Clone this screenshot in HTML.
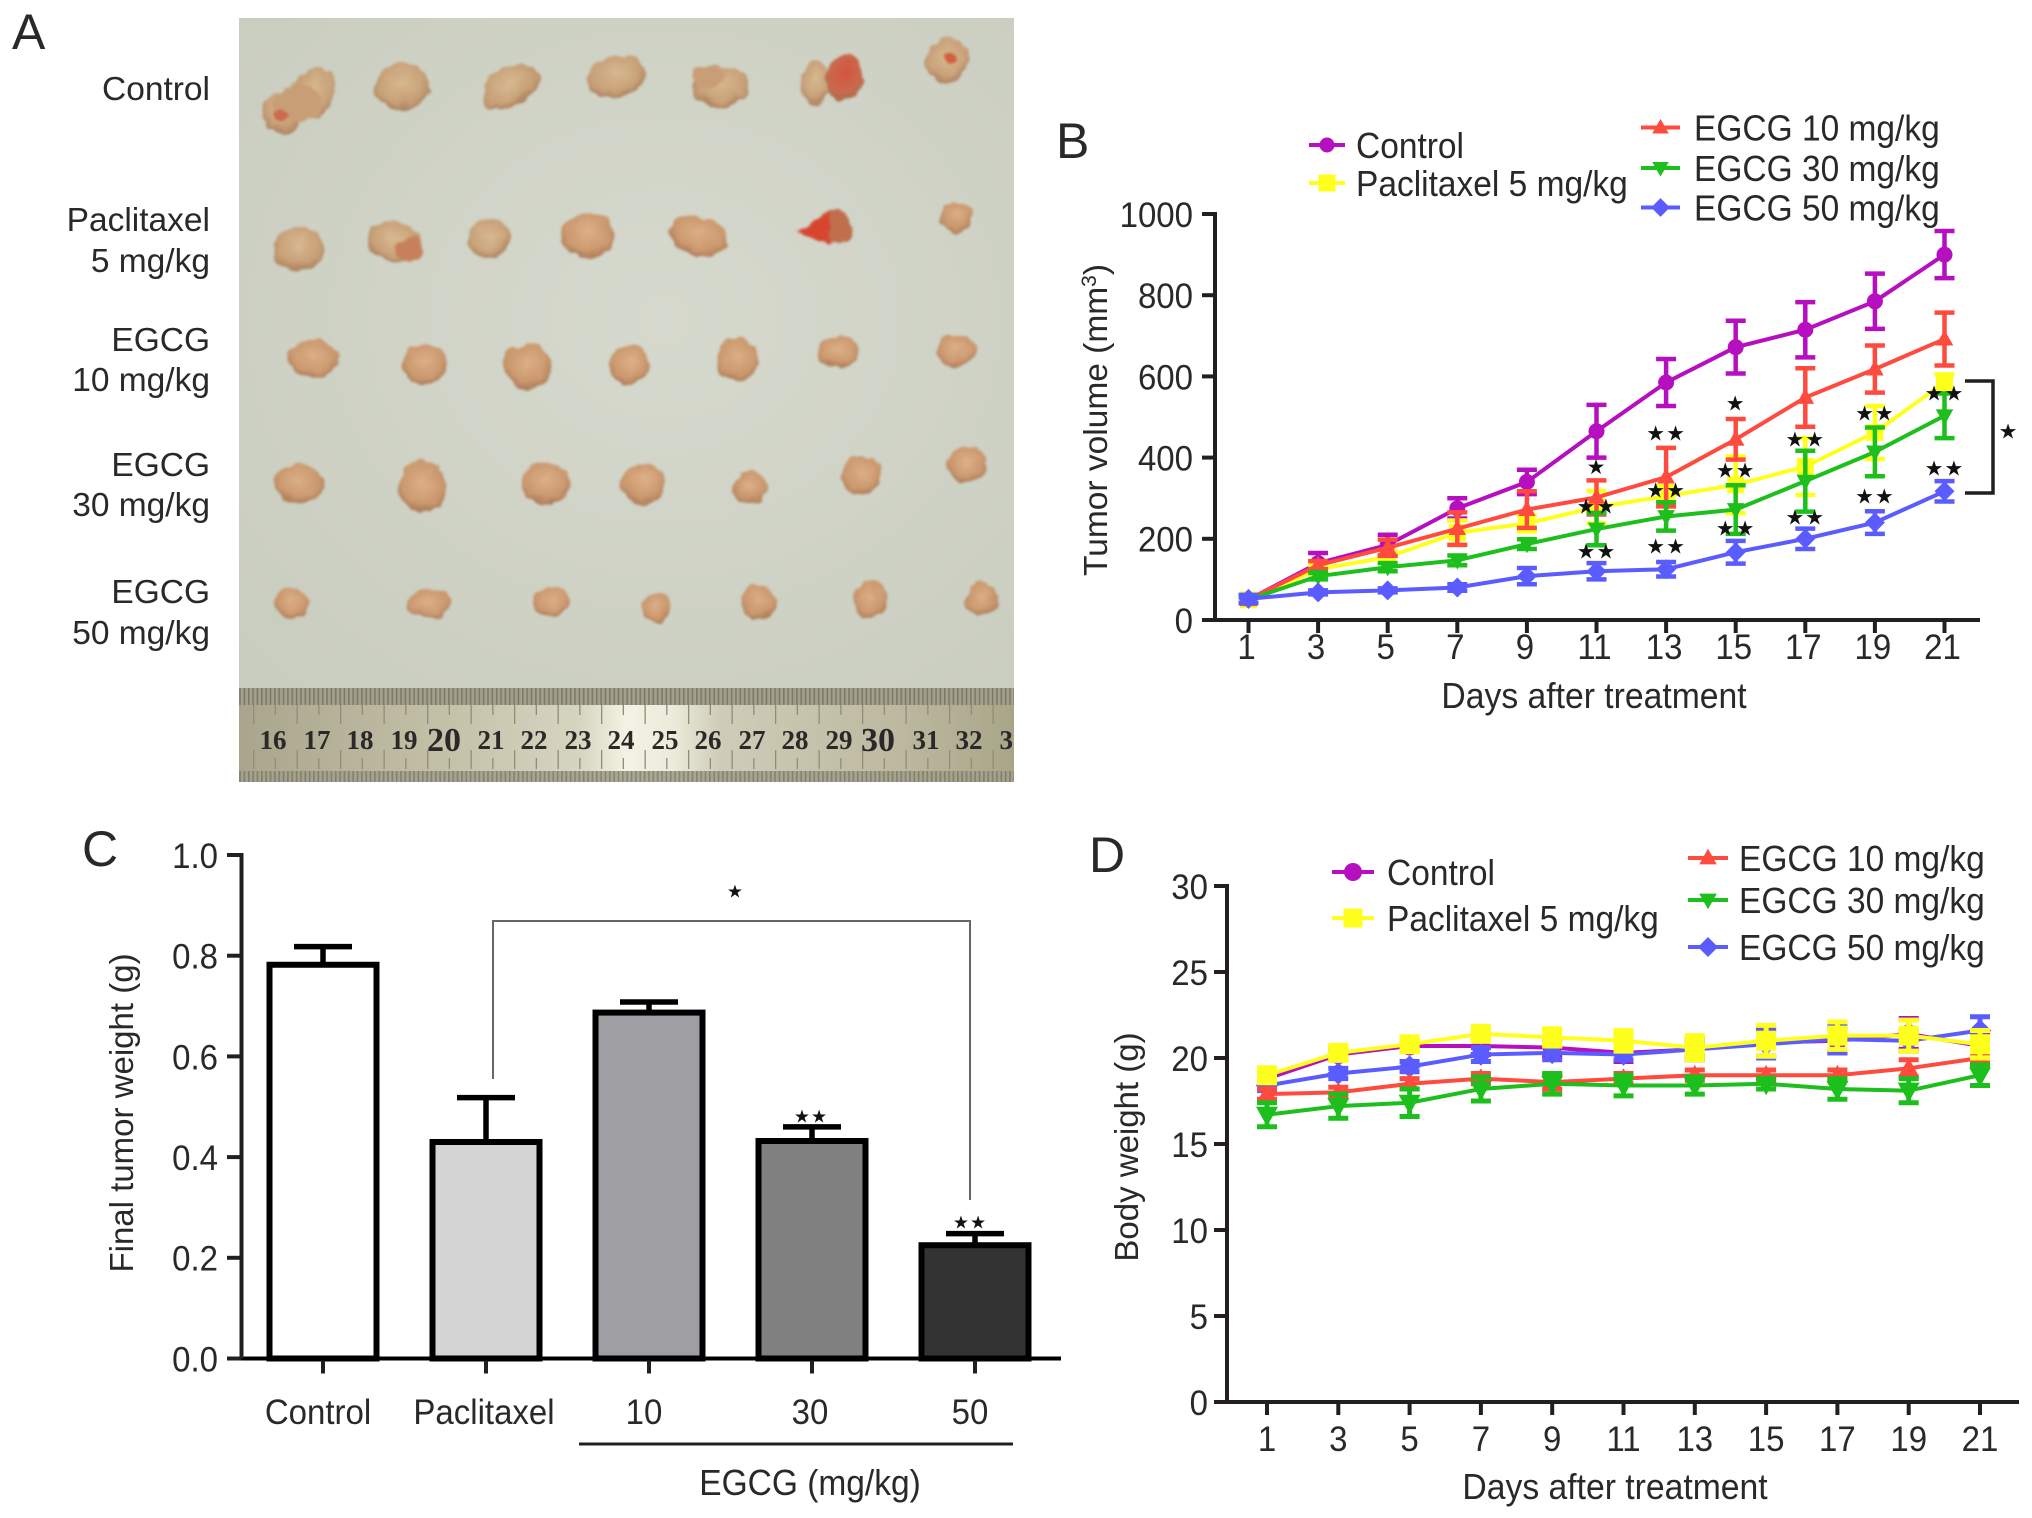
<!DOCTYPE html>
<html lang="en">
<head>
<meta charset="utf-8">
<title>EGCG tumor figure</title>
<style>
html,body{margin:0;padding:0;background:#fff;width:2032px;height:1518px;overflow:hidden}
svg{display:block}
text{font-family:"Liberation Sans",sans-serif;fill:#2a2829}
.stars{font-family:"DejaVu Sans",sans-serif;fill:#111}
</style>
</head>
<body>
<svg id="fig" xmlns="http://www.w3.org/2000/svg" width="2032" height="1518" viewBox="0 0 2032 1518">
<defs>
<radialGradient id="bg" cx="55%" cy="45%" r="75%"><stop offset="0" stop-color="#d6d9cd"/><stop offset="1" stop-color="#c9cdbf"/></radialGradient>
<radialGradient id="tp" cx="50%" cy="42%" r="60%"><stop offset="0" stop-color="#d8ba90"/><stop offset=".7" stop-color="#c8a078"/><stop offset="1" stop-color="#a67c5a"/></radialGradient>
<radialGradient id="to" cx="50%" cy="42%" r="60%"><stop offset="0" stop-color="#dcb088"/><stop offset=".7" stop-color="#cb986e"/><stop offset="1" stop-color="#a67656"/></radialGradient>
<radialGradient id="tr" cx="50%" cy="40%" r="60%"><stop offset="0" stop-color="#d4553f"/><stop offset=".7" stop-color="#c86a4c"/><stop offset="1" stop-color="#a86c4c"/></radialGradient>
<filter id="soft" filterUnits="userSpaceOnUse" x="240" y="18" width="778" height="680" color-interpolation-filters="sRGB">
<feTurbulence type="fractalNoise" baseFrequency=".07" numOctaves="2" seed="4" result="n"/>
<feDisplacementMap in="SourceGraphic" in2="n" scale="10" xChannelSelector="R" yChannelSelector="G"/>
<feGaussianBlur stdDeviation="1.3"/>
</filter>
<linearGradient id="rulerBody" x1="0" x2="1" y1="0" y2="0">
<stop offset="0" stop-color="#a9a58c"/><stop offset=".25" stop-color="#c2bfa6"/><stop offset=".44" stop-color="#d6d5c0"/><stop offset=".5" stop-color="#f2f3e4"/><stop offset=".56" stop-color="#ebebdb"/><stop offset=".62" stop-color="#cfcdb8"/><stop offset=".85" stop-color="#bdb9a0"/><stop offset="1" stop-color="#a8a588"/>
</linearGradient>
<pattern id="mm" width="4.35" height="10" patternUnits="userSpaceOnUse"><rect width="4.35" height="10" fill="#a3a08c"/><rect width="1.6" height="10" fill="#7d7a69"/></pattern>
<pattern id="cmTop" x="239" width="43.5" height="22" patternUnits="userSpaceOnUse"><rect x="14" width="1.3" height="20" fill="#8f8c78"/><rect x="35.7" width="1.3" height="11" fill="#8f8c78"/></pattern>
<pattern id="cmBot" x="239" y="749" width="43.5" height="22" patternUnits="userSpaceOnUse"><rect x="14" width="1.3" height="20" fill="#8f8c78"/><rect x="35.7" y="9" width="1.3" height="11" fill="#8f8c78"/></pattern>
<clipPath id="photoClip"><rect x="239" y="18" width="775" height="764"/></clipPath>
</defs>
<rect width="2032" height="1518" fill="#fff"/>

<g>
<text x="12" y="49" font-size="50">A</text>
<g clip-path="url(#photoClip)">
<rect x="239" y="18" width="775" height="672" fill="url(#bg)"/>
<g filter="url(#soft)">
<g transform="matrix(.9957 0 0 .995 -.7 0)">
<g fill="url(#tp)">
<g><ellipse cx="285" cy="113" rx="21" ry="21"/><ellipse cx="315" cy="93" rx="20" ry="27" transform="rotate(20 315 93)"/><ellipse cx="300" cy="104" rx="24" ry="20" fill="#c89e76"/><ellipse cx="283" cy="115" rx="6" ry="7" fill="#cc6a4c"/></g>
<ellipse cx="404" cy="87" rx="27" ry="23"/>
<ellipse cx="513" cy="87" rx="30" ry="20" transform="rotate(-30 513 87)"/>
<ellipse cx="620" cy="77" rx="29" ry="21" transform="rotate(-15 620 77)"/>
<g><ellipse cx="724" cy="87" rx="28" ry="21"/><ellipse cx="712" cy="77" rx="18" ry="12" fill="#c89e76"/></g>
<g><ellipse cx="820" cy="83" rx="15" ry="22"/><ellipse cx="849" cy="78" rx="18" ry="23" fill="url(#tr)" transform="rotate(15 849 78)"/></g>
<g><ellipse cx="952" cy="61" rx="22" ry="23"/><ellipse cx="955" cy="58" rx="6" ry="6" fill="#d0603f"/></g>
</g>
<g fill="url(#tp)">
<ellipse cx="301" cy="250" rx="25" ry="22"/>
<g><ellipse cx="396" cy="243" rx="28" ry="20" transform="rotate(15 396 243)"/><ellipse cx="412" cy="251" rx="13" ry="12" fill="#c8805c"/></g>
<ellipse cx="492" cy="240" rx="23" ry="19" transform="rotate(-10 492 240)"/>
<ellipse cx="590" cy="237" rx="27" ry="23" fill="url(#to)"/>
<ellipse cx="702" cy="237" rx="29" ry="20" fill="url(#to)" transform="rotate(15 702 237)"/>
<g><ellipse cx="838" cy="228" rx="17" ry="18" fill="#bf6f4c"/><polygon points="800,232 835,212 835,245" fill="#d8452f"/></g>
<ellipse cx="962" cy="218" rx="16" ry="16" fill="url(#to)"/>
</g>
<g fill="url(#to)">
<ellipse cx="315" cy="361" rx="26" ry="19"/>
<ellipse cx="427" cy="366" rx="23" ry="20"/>
<ellipse cx="531" cy="368" rx="23" ry="23"/>
<ellipse cx="633" cy="367" rx="20" ry="20"/>
<ellipse cx="741" cy="361" rx="21" ry="22"/>
<ellipse cx="843" cy="354" rx="20" ry="17"/>
<ellipse cx="961" cy="352" rx="19" ry="17"/>
</g>
<g fill="url(#to)">
<ellipse cx="300" cy="486" rx="25" ry="20"/>
<ellipse cx="425" cy="490" rx="24" ry="26"/>
<ellipse cx="549" cy="486" rx="25" ry="20"/>
<ellipse cx="647" cy="486" rx="22" ry="21"/>
<ellipse cx="753" cy="490" rx="17" ry="17"/>
<ellipse cx="867" cy="478" rx="20" ry="20"/>
<ellipse cx="972" cy="467" rx="20" ry="19"/>
</g>
<g fill="url(#to)">
<ellipse cx="294" cy="606" rx="17" ry="16"/>
<ellipse cx="431" cy="607" rx="21" ry="15"/>
<ellipse cx="555" cy="605" rx="18" ry="15"/>
<ellipse cx="660" cy="611" rx="14" ry="16"/>
<ellipse cx="763" cy="605" rx="18" ry="17"/>
<ellipse cx="875" cy="603" rx="17" ry="19"/>
<ellipse cx="987" cy="601" rx="16" ry="16"/>
</g>
</g>
</g>
<g>
<rect x="239" y="688" width="775" height="94" fill="url(#rulerBody)"/>
<rect x="239" y="688" width="775" height="17" fill="url(#mm)"/>
<rect x="239" y="771" width="775" height="11" fill="url(#mm)" opacity=".9"/>
<rect x="239" y="705" width="775" height="21" fill="url(#cmTop)"/>
<rect x="239" y="750" width="775" height="21" fill="url(#cmBot)"/>
<g text-anchor="middle" transform="translate(-2,0)" style="font-weight:bold">
<text x="275" y="749" font-size="27" style="font-family:'Liberation Serif',serif">16</text>
<text x="319" y="749" font-size="27" style="font-family:'Liberation Serif',serif">17</text>
<text x="362" y="749" font-size="27" style="font-family:'Liberation Serif',serif">18</text>
<text x="406" y="749" font-size="27" style="font-family:'Liberation Serif',serif">19</text>
<text x="446" y="751" font-size="34" style="font-family:'Liberation Serif',serif">20</text>
<text x="493" y="749" font-size="27" style="font-family:'Liberation Serif',serif">21</text>
<text x="536" y="749" font-size="27" style="font-family:'Liberation Serif',serif">22</text>
<text x="580" y="749" font-size="27" style="font-family:'Liberation Serif',serif">23</text>
<text x="623" y="749" font-size="27" style="font-family:'Liberation Serif',serif">24</text>
<text x="667" y="749" font-size="27" style="font-family:'Liberation Serif',serif">25</text>
<text x="710" y="749" font-size="27" style="font-family:'Liberation Serif',serif">26</text>
<text x="754" y="749" font-size="27" style="font-family:'Liberation Serif',serif">27</text>
<text x="797" y="749" font-size="27" style="font-family:'Liberation Serif',serif">28</text>
<text x="841" y="749" font-size="27" style="font-family:'Liberation Serif',serif">29</text>
<text x="880" y="751" font-size="34" style="font-family:'Liberation Serif',serif">30</text>
<text x="928" y="749" font-size="27" style="font-family:'Liberation Serif',serif">31</text>
<text x="971" y="749" font-size="27" style="font-family:'Liberation Serif',serif">32</text>
<text x="1015" y="749" font-size="27" style="font-family:'Liberation Serif',serif">33</text>
</g>
</g>
</g>
<g font-size="33.5" text-anchor="end">
<text x="210" y="100">Control</text>
<text x="210" y="231">Paclitaxel</text>
<text x="210" y="272">5 mg/kg</text>
<text x="210" y="351">EGCG</text>
<text x="210" y="391">10 mg/kg</text>
<text x="210" y="476">EGCG</text>
<text x="210" y="516">30 mg/kg</text>
<text x="210" y="603">EGCG</text>
<text x="210" y="644">50 mg/kg</text>
</g>
</g>
<text x="1056" y="158" font-size="50">B</text>
<text x="82" y="866" font-size="50">C</text>
<text x="1089" y="872" font-size="50">D</text>
</svg>

<script>
// Panel B: tumor volume (mm3)
const dayTicks = [1, 3, 5, 7, 9, 11, 13, 15, 17, 19, 21];
const volumeTicks = [0, 200, 400, 600, 800, 1000];
const volControl = [50, 140, 185, 275, 340, 465, 585, 672, 715, 785, 900];
const volControlErr = [8, 25, 25, 25, 30, 65, 58, 65, 68, 68, 58];
const volPaclitaxel = [50, 125, 155, 215, 238, 278, 305, 333, 378, 462, 585];
const volPaclitaxelErr = [8, 10, 15, 30, 20, 40, 25, 70, 70, 65, 20];
const volEgcg10 = [50, 135, 178, 225, 272, 302, 352, 445, 548, 618, 692];
const volEgcg10Err = [8, 10, 20, 40, 45, 42, 72, 50, 72, 58, 65];
const volEgcg30 = [50, 108, 130, 147, 187, 224, 255, 272, 342, 414, 503];
const volEgcg30Err = [8, 8, 10, 12, 12, 40, 35, 60, 75, 60, 55];
const volEgcg50 = [52, 68, 73, 80, 108, 120, 125, 167, 200, 240, 317];
const volEgcg50Err = [10, 5, 5, 8, 20, 20, 18, 28, 25, 28, 25];
const sigDays = [11, 11, 11, 13, 13, 13, 15, 15, 15, 17, 17, 19, 19, 21, 21];
const sigVolumes = [378, 281, 170, 461, 320, 182, 535, 369, 227, 446, 254, 510, 305, 559, 374];
const sigMarks = ['★', '★★', '★★', '★★', '★★', '★★', '★', '★★', '★★', '★★', '★★', '★★', '★★', '★★', '★★'];

// Panel C: final tumor weight (g)
const weightTicks = ['0.0', '0.2', '0.4', '0.6', '0.8', '1.0'];
const barCategories = ['Control', 'Paclitaxel', '10', '30', '50'];
const barValues = [0.782, 0.43, 0.687, 0.432, 0.225];
const barErrors = [0.036, 0.088, 0.021, 0.028, 0.023];

// Panel D: body weight (g)
const bodyTicks = [0, 5, 10, 15, 20, 25, 30];
const bodyControl = [18.8, 20.2, 20.7, 20.7, 20.6, 20.3, 20.5, 20.9, 21.0, 21.4, 20.7];
const bodyControlErr = [0.3, 0.3, 0.3, 0.5, 0.5, 0.5, 0.6, 0.8, 0.7, 0.9, 0.7];
const bodyPaclitaxel = [19.0, 20.3, 20.8, 21.4, 21.2, 21.0, 20.6, 21.0, 21.3, 21.3, 20.8];
const bodyPaclitaxelErr = [0.4, 0.3, 0.3, 0.3, 0.5, 0.6, 0.7, 0.9, 0.8, 0.9, 0.8];
const bodyEgcg10 = [17.9, 18.0, 18.5, 18.8, 18.6, 18.8, 19.0, 19.0, 19.0, 19.4, 20.0];
const bodyEgcg10Err = [0.3, 0.3, 0.3, 0.3, 0.4, 0.3, 0.3, 0.3, 0.3, 0.5, 0.3];
const bodyEgcg30 = [16.7, 17.2, 17.4, 18.2, 18.5, 18.4, 18.4, 18.5, 18.2, 18.1, 19.0];
const bodyEgcg30Err = [0.7, 0.7, 0.8, 0.7, 0.6, 0.6, 0.5, 0.3, 0.6, 0.7, 0.6];
const bodyEgcg50 = [18.4, 19.1, 19.5, 20.2, 20.3, 20.2, 20.5, 20.8, 21.1, 21.0, 21.6];
const bodyEgcg50Err = [0.3, 0.3, 0.3, 0.4, 0.4, 0.3, 0.4, 0.8, 0.8, 0.6, 0.8];

const NS = 'http://www.w3.org/2000/svg';
const INK = '#231f20';
const fig = document.getElementById('fig');

function el(tag, attrs, parent, name, interactive) {
  const e = document.createElementNS(NS, tag);
  for (const k in attrs) e.setAttribute(k, attrs[k]);
  
  
  parent.appendChild(e);
  return e;
}
function group(parent, name) { return el('g', {}, parent, name, false); }
function label(parent, x, y, str, name, anchor, size) {
  const fs = size || 33;
  const t = el('text', { transform: 'translate(' + x + ',' + (y + fs * 0.39) + ') scale(1,1.08)', 'font-size': fs, 'text-anchor': anchor || 'middle' }, parent, name, false);
  t.textContent = str;
  return t;
}
function linear(d0, d1, r0, r1) { return v => r0 + (v - d0) * (r1 - r0) / (d1 - d0); }
function seg(parent, x1, y1, x2, y2, color, w, name) {
  return el('line', { x1: x1, y1: y1, x2: x2, y2: y2, stroke: color, 'stroke-width': w }, parent, name, false);
}
function marker(parent, shape, x, y, r, color, name) {
  let pts;
  if (shape === 'circle') return el('circle', { cx: x, cy: y, r: r, fill: color }, parent, name, false);
  if (shape === 'square') pts = [[-r, -r], [r, -r], [r, r], [-r, r]];
  if (shape === 'up') pts = [[0, -r * 1.15], [r * 1.1, r * 0.8], [-r * 1.1, r * 0.8]];
  if (shape === 'down') pts = [[0, r * 1.15], [r * 1.1, -r * 0.8], [-r * 1.1, -r * 0.8]];
  if (shape === 'diamond') pts = [[0, -r * 1.25], [r * 1.25, 0], [0, r * 1.25], [-r * 1.25, 0]];
  return el('polygon', { points: pts.map(p => (x + p[0]) + ',' + (y + p[1])).join(' '), fill: color }, parent, name, false);
}
function stars(parent, x, y, str, size, gap, name) {
  const t = el('text', { x: x, y: y + size * 0.36, 'font-size': size, 'text-anchor': 'middle', 'letter-spacing': gap, class: 'stars' }, parent, name, false);
  t.textContent = str;
  return t;
}

const STYLE = {
  control: { color: '#b60fc0', shape: 'circle', label: 'Control' },
  pac: { color: '#ffff1e', shape: 'square', label: 'Paclitaxel 5 mg/kg' },
  e10: { color: '#ff4b3e', shape: 'up', label: 'EGCG 10 mg/kg' },
  e30: { color: '#1cbf1c', shape: 'down', label: 'EGCG 30 mg/kg' },
  e50: { color: '#5b5cff', shape: 'diamond', label: 'EGCG 50 mg/kg' }
};

function lineAxes(root, prefix, x, y, axisX, xAxisEnd, yTicks, xLabelOffset, xLabelDx, yLabelRight) {
  const ax = group(root, prefix + '-axes');
  seg(ax, axisX - 13, y(0), xAxisEnd, y(0), INK, 4, prefix + '-x-axis');
  seg(ax, axisX, y(yTicks[0]), axisX, y(yTicks[yTicks.length - 1]) - 2, INK, 4, prefix + '-y-axis');
  yTicks.forEach(v => {
    seg(ax, axisX - 13, y(v), axisX, y(v), INK, 4, prefix + '-y-tick');
    label(ax, yLabelRight, y(v), String(v), prefix + '-y-tick-label', 'end');
  });
  dayTicks.forEach(d => {
    seg(ax, x(d), y(0), x(d), y(0) + 13, INK, 4, prefix + '-x-tick');
    label(ax, x(d) + xLabelDx, y(0) + xLabelOffset, String(d), prefix + '-x-tick-label');
  });
}
function drawSeries(root, prefix, key, vals, errs, x, y, r, cap, ew) {
  const s = STYLE[key];
  const g = group(root, prefix + '-series-' + key);
  dayTicks.forEach((d, i) => {
    seg(g, x(d), y(vals[i] - errs[i]), x(d), y(vals[i] + errs[i]), s.color, ew, prefix + '-error-bar');
    seg(g, x(d) - cap, y(vals[i] + errs[i]), x(d) + cap, y(vals[i] + errs[i]), s.color, ew, prefix + '-error-cap-upper');
    seg(g, x(d) - cap, y(vals[i] - errs[i]), x(d) + cap, y(vals[i] - errs[i]), s.color, ew, prefix + '-error-cap-lower');
  });
  el('polyline', {
    points: dayTicks.map((d, i) => x(d) + ',' + y(vals[i])).join(' '),
    fill: 'none', stroke: s.color, 'stroke-width': 4
  }, g, prefix + '-line', false);
  dayTicks.forEach((d, i) => marker(g, s.shape, x(d), y(vals[i]), r, s.color, prefix + '-point'));
}
function legendEntry(root, prefix, key, x0, x1, y, tx, r) {
  const s = STYLE[key];
  const g = group(root, prefix + '-legend-' + key);
  seg(g, x0, y, x1, y, s.color, 4, prefix + '-legend-line');
  marker(g, s.shape, (x0 + x1) / 2, y, r, s.color, prefix + '-legend-marker');
  label(g, tx, y, s.label, prefix + '-legend-label', 'start', 33.5);
}

// ---------- Panel B ----------
(function () {
  const root = group(fig, 'panel-b-tumor-volume');
  const x = linear(1, 21, 1248.5, 1944.5);
  const y = linear(0, 1000, 620, 214);
  lineAxes(root, 'volume', x, y, 1215, 1980, volumeTicks, 26, -2, 1193);
  drawSeries(root, 'volume', 'control', volControl, volControlErr, x, y, 8, 10, 4.5);
  drawSeries(root, 'volume', 'pac', volPaclitaxel, volPaclitaxelErr, x, y, 8.5, 10, 4.5);
  drawSeries(root, 'volume', 'e10', volEgcg10, volEgcg10Err, x, y, 8, 10, 4.5);
  drawSeries(root, 'volume', 'e30', volEgcg30, volEgcg30Err, x, y, 8, 10, 4.5);
  drawSeries(root, 'volume', 'e50', volEgcg50, volEgcg50Err, x, y, 8, 10, 4.5);
  const sig = group(root, 'volume-significance-stars');
  sigDays.forEach((d, i) => stars(sig, x(d), y(sigVolumes[i]), sigMarks[i], 21, 1, 'significance-mark'));
  const br = group(root, 'volume-comparison-bracket');
  el('polyline', { points: '1965,381 1993,381 1993,493 1965,493', fill: 'none', stroke: INK, 'stroke-width': 3.5 }, br, 'comparison-bracket-line', false);
  stars(br, 2008, 431, '★', 21, 0, 'comparison-bracket-star');
  label(root, 1594, 695, 'Days after treatment', 'volume-x-axis-title', 'middle', 33.7);
  const yt = el('text', { transform: 'translate(1107,420) rotate(-90)', 'font-size': 33.5, 'text-anchor': 'middle' }, root, 'volume-y-axis-title', false);
  yt.textContent = 'Tumor volume (mm';
  const sup = document.createElementNS(NS, 'tspan');
  
  
  sup.setAttribute('dy', '-11');
  sup.setAttribute('font-size', '21');
  sup.textContent = '3';
  yt.appendChild(sup);
  const close = document.createElementNS(NS, 'tspan');
  
  
  close.setAttribute('dy', '11');
  close.textContent = ')';
  yt.appendChild(close);
  const lg = group(root, 'volume-legend');
  legendEntry(lg, 'volume', 'control', 1309, 1345, 145, 1356, 7.5);
  legendEntry(lg, 'volume', 'pac', 1309, 1345, 183, 1356, 8.5);
  legendEntry(lg, 'volume', 'e10', 1641, 1680, 127.5, 1694, 7.5);
  legendEntry(lg, 'volume', 'e30', 1641, 1680, 168, 1694, 7.5);
  legendEntry(lg, 'volume', 'e50', 1641, 1680, 207.5, 1694, 7.5);
})();

// ---------- Panel C ----------
(function () {
  const root = group(fig, 'panel-c-tumor-weight');
  const y = linear(0, 1, 1358.5, 855);
  const x = i => 323 + i * 163;
  const fills = ['#ffffff', '#d4d4d4', '#9e9ea3', '#808080', '#333333'];
  const barHalf = 53.5;
  const capHalf = 29;
  barCategories.forEach((c, i) => {
    const g = group(root, 'bar-group-' + c.toLowerCase());
    seg(g, x(i), y(barValues[i]), x(i), y(barValues[i] + barErrors[i]), '#000', 5.5, 'bar-error-stem');
    seg(g, x(i) - capHalf, y(barValues[i] + barErrors[i]), x(i) + capHalf, y(barValues[i] + barErrors[i]), '#000', 5.5, 'bar-error-cap');
    el('rect', { x: x(i) - barHalf, y: y(barValues[i]), width: barHalf * 2, height: y(0) - y(barValues[i]), fill: fills[i], stroke: '#000', 'stroke-width': 6 }, g, 'bar', false);
    seg(root, x(i), y(0), x(i), y(0) + 15, INK, 4, 'bar-x-tick');
  });
  const labelX = [318, 484, 644, 810, 970];
  barCategories.forEach((c, i) => label(root, labelX[i], 1411, c, 'bar-x-label'));
  seg(root, 229, y(0), 1061, y(0), '#000', 4, 'weight-x-axis');
  seg(root, 241.5, y(0), 241.5, y(1) - 2, INK, 4, 'weight-y-axis');
  weightTicks.forEach(t => {
    seg(root, 227, y(+t), 241.5, y(+t), INK, 4, 'weight-y-tick');
    label(root, 218, y(+t), t, 'weight-y-tick-label', 'end');
  });
  el('polyline', { points: '493,1079 493,921 970,921 970,1200', fill: 'none', stroke: '#666', 'stroke-width': 2 }, root, 'weight-comparison-bracket', false);
  stars(root, 735, 891, '★', 18, 0, 'weight-comparison-star');
  stars(root, 811, 1116, '★★', 18, 1, 'weight-egcg30-stars');
  stars(root, 970, 1222, '★★', 18, 1, 'weight-egcg50-stars');
  seg(root, 579, 1444, 1013, 1444, INK, 3, 'egcg-group-underline');
  label(root, 810, 1482, 'EGCG (mg/kg)', 'egcg-group-label', 'middle', 33.5);
  el('text', { transform: 'translate(133,1113) rotate(-90)', 'font-size': 33, 'text-anchor': 'middle' }, root, 'weight-y-axis-title', false).textContent = 'Final tumor weight (g)';
})();

// ---------- Panel D ----------
(function () {
  const root = group(fig, 'panel-d-body-weight');
  const x = linear(1, 21, 1267, 1980);
  const y = linear(0, 30, 1402, 886);
  lineAxes(root, 'body', x, y, 1227, 2019, bodyTicks, 36, 0, 1208);
  drawSeries(root, 'body', 'control', bodyControl, bodyControlErr, x, y, 9.5, 10, 5);
  drawSeries(root, 'body', 'e50', bodyEgcg50, bodyEgcg50Err, x, y, 9, 10, 5);
  drawSeries(root, 'body', 'e10', bodyEgcg10, bodyEgcg10Err, x, y, 9, 10, 5);
  drawSeries(root, 'body', 'e30', bodyEgcg30, bodyEgcg30Err, x, y, 10, 10, 5);
  drawSeries(root, 'body', 'pac', bodyPaclitaxel, bodyPaclitaxelErr, x, y, 10, 10, 5);
  label(root, 1615, 1486, 'Days after treatment', 'body-x-axis-title', 'middle', 33.7);
  el('text', { transform: 'translate(1138,1147) rotate(-90)', 'font-size': 33, 'text-anchor': 'middle' }, root, 'body-y-axis-title', false).textContent = 'Body weight (g)';
  const lg = group(root, 'body-legend');
  legendEntry(lg, 'body', 'control', 1332, 1374, 872, 1387, 9);
  legendEntry(lg, 'body', 'pac', 1332, 1374, 918, 1387, 9.5);
  legendEntry(lg, 'body', 'e10', 1688, 1728, 858, 1739, 8);
  legendEntry(lg, 'body', 'e30', 1688, 1728, 900, 1739, 8);
  legendEntry(lg, 'body', 'e50', 1688, 1728, 947, 1739, 8);
})();
</script>
</body>
</html>
